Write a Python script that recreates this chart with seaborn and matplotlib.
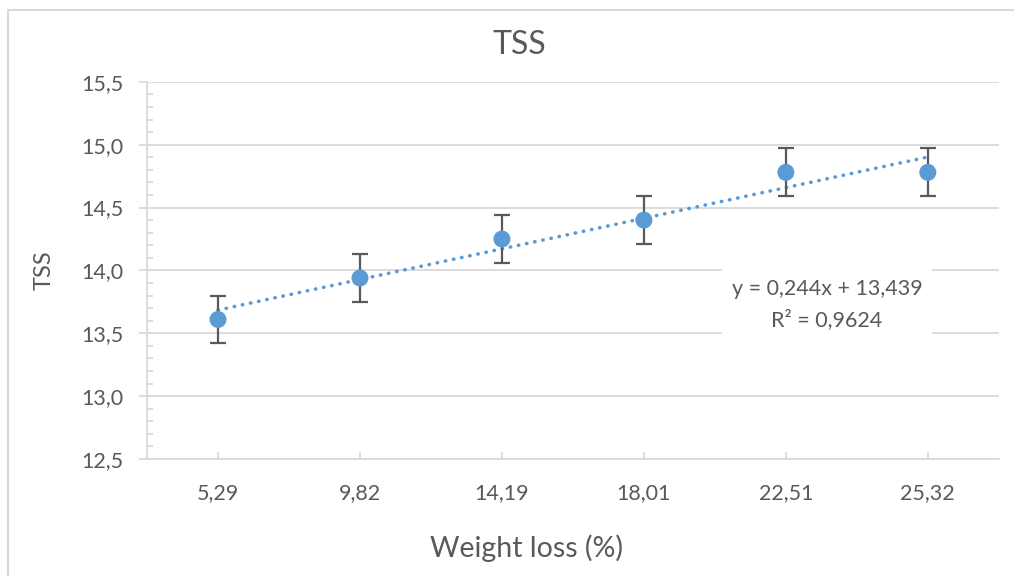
import numpy as np
import pandas as pd
import seaborn as sns
import matplotlib
matplotlib.use('Agg')
import matplotlib.pyplot as plt
from matplotlib.ticker import MultipleLocator, FuncFormatter

# data
weight_loss = ['5,29', '9,82', '14,19', '18,01', '22,51', '25,32']
tss = [13.61, 13.94, 14.25, 14.40, 14.78, 14.78]
tss_err = [0.19, 0.19, 0.19, 0.19, 0.19, 0.19]
eq_text = 'y = 0,244x + 13,439\nR² = 0,9624'

df = pd.DataFrame({'pos': np.arange(len(weight_loss)), 'tss': tss, 'err': tss_err})

sns.set_style('white')
plt.rcParams['font.family'] = ['Lato', 'DejaVu Sans']

blue = '#5B9BD5'
grey_txt = '#595959'
grid_c = '#D9D9D9'

fig = plt.figure(figsize=(10.14, 5.76), dpi=100)
ax = fig.add_axes([0.145, 0.203, 0.84, 0.655])

# linear trend on category index 1..n (as Excel does)
k, b = np.polyfit(df['pos'] + 1, df['tss'], 1)
trend = pd.DataFrame({'pos': df['pos'], 'fit': k * (df['pos'] + 1) + b})
sns.lineplot(data=trend, x='pos', y='fit', ax=ax, color=blue, lw=2.6,
             linestyle=(0, (0.1, 2.2)), dash_capstyle='round', zorder=3)

ax.errorbar(df['pos'], df['tss'], yerr=df['err'], fmt='none', ecolor='#595959',
            elinewidth=1.6, capsize=6, capthick=1.6, zorder=4)
sns.scatterplot(data=df, x='pos', y='tss', ax=ax, color=blue, s=150,
                edgecolor='none', zorder=5)

ax.set_xlim(-0.5, len(weight_loss) - 0.5)
ax.set_ylim(12.5, 15.5)
ax.set_xticks(df['pos'])
ax.set_xticklabels(weight_loss)
ax.yaxis.set_major_locator(MultipleLocator(0.5))
ax.yaxis.set_minor_locator(MultipleLocator(0.1))
ax.yaxis.set_major_formatter(FuncFormatter(lambda v, p: f'{v:.1f}'.replace('.', ',')))

ax.grid(axis='y', color=grid_c, lw=1.3)
ax.set_axisbelow(True)
for s in ['top', 'right']:
    ax.spines[s].set_visible(False)
for s in ['left', 'bottom']:
    ax.spines[s].set_color(grid_c)
    ax.spines[s].set_linewidth(1.3)

ax.tick_params(axis='y', which='major', direction='out', length=6, width=1.3,
               color=grid_c, labelsize=15.5, labelcolor=grey_txt, pad=11, left=True)
ax.tick_params(axis='y', which='minor', direction='in', length=4, width=1.3,
               color=grid_c, left=True)
ax.tick_params(axis='x', which='major', direction='in', length=5, width=1.3,
               color=grid_c, labelsize=15.5, labelcolor=grey_txt, pad=17, bottom=True)

ax.set_title('TSS', fontsize=23, color=grey_txt, x=0.437, y=1.0, pad=20)
ax.set_xlabel('Weight loss (%)', fontsize=20.5, color=grey_txt)
ax.xaxis.set_label_coords(0.446, -0.2)
ax.set_ylabel('TSS', fontsize=17, color=grey_txt)
ax.yaxis.set_label_coords(-0.108, 0.5)

ax.text(4.29, 13.73, eq_text, fontsize=15.5, color=grey_txt, ha='center', va='center',
        linespacing=1.6, zorder=6,
        bbox=dict(boxstyle='square,pad=0.45', fc='white', ec='none'))

# outer chart frame
fig.patches.append(plt.Rectangle((0.008, -0.01), 1.0, 0.993, transform=fig.transFigure,
                                 fill=False, ec=grid_c, lw=1.5))

fig.savefig('out.png', dpi=100)
